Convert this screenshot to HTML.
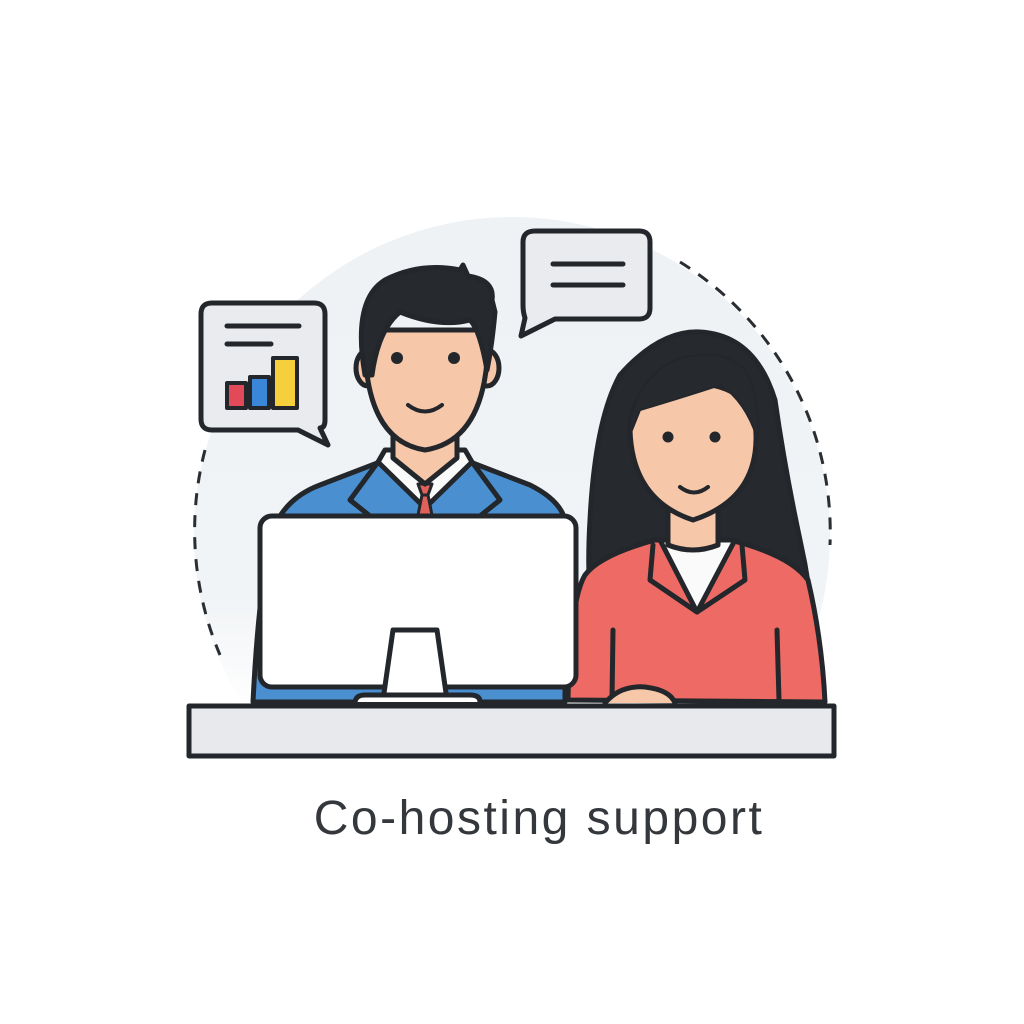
<!DOCTYPE html>
<html><head><style>
html,body{margin:0;padding:0;background:#fff;}
svg{display:block;}
</style></head><body>
<svg width="1024" height="1024" viewBox="0 0 1024 1024" xmlns="http://www.w3.org/2000/svg">
<defs>
<linearGradient id="cg" x1="0" y1="0" x2="0" y2="1" gradientUnits="objectBoundingBox">
<stop offset="0" stop-color="#eef2f5"/>
<stop offset="0.6" stop-color="#f1f4f6"/>
<stop offset="0.78" stop-color="#ffffff"/>
</linearGradient>
</defs>
<rect width="1024" height="1024" fill="#ffffff"/>
<circle cx="512" cy="535" r="318" fill="url(#cg)"/>
<path d="M680 262 A318 318 0 0 1 830 545" fill="none" stroke="#2a2d31" stroke-width="3" stroke-dasharray="12 10"/>
<path d="M205 450 A318 318 0 0 0 220 655" fill="none" stroke="#2a2d31" stroke-width="3" stroke-dasharray="12 10"/>

<g stroke="#23272b" stroke-width="5" stroke-linejoin="round" stroke-linecap="round">
<path d="M212 303 H314 Q325 303 325 314 V420 Q325 428 320 428 L328 445 L298 430 H212 Q201 430 201 419 V314 Q201 303 212 303 Z" fill="#e9ebee"/>
<line x1="227" y1="326" x2="299" y2="326"/>
<line x1="227" y1="344" x2="271" y2="344"/>
<rect x="227" y="383" width="19" height="25" fill="#e24a5a" stroke-width="4"/>
<rect x="250" y="377" width="19" height="31" fill="#3a86d8" stroke-width="4"/>
<rect x="273" y="358" width="24" height="50" fill="#f5cf3c" stroke-width="4"/>

<path d="M535 231 H639 Q650 231 650 242 V308 Q650 319 639 319 H555 L521 336 L525 318 Q523 312 523 305 V242 Q523 231 535 231 Z" fill="#e9ebee"/>
<line x1="553" y1="264" x2="623" y2="264"/>
<line x1="553" y1="285" x2="623" y2="285"/>

<path d="M600 700 Q585 600 590 520 Q595 420 620 375 Q660 330 700 332 Q755 335 775 400 Q785 470 800 540 Q818 620 815 700 Z" fill="#262a2f"/>
<path d="M568 700 Q570 600 585 575 Q600 555 655 540 L730 540 Q790 555 808 580 Q822 640 825 702 Z" fill="#ee6a64"/>
<path d="M660 540 L697 612 L735 540 Z" fill="#fafafa"/>
<path d="M653 545 L650 580 L697 612 L745 580 L742 545" fill="none"/>
<line x1="613" y1="630" x2="612" y2="700"/>
<line x1="777" y1="630" x2="779" y2="700"/>
<path d="M668 505 V545 Q693 555 718 545 V505 Z" fill="#f6c7a8"/>
<path d="M630 430 Q628 380 692 383 Q758 385 756 440 Q755 500 693 520 Q632 500 630 430 Z" fill="#f6c7a8"/>
<path d="M628 440 Q632 380 675 360 Q720 345 745 370 Q760 395 758 440 Q745 400 720 385 Q690 395 640 410 Z" fill="#262a2f" stroke-width="2"/>
<path d="M680 487 Q694 498 708 487" fill="none" stroke-width="4"/>
<path d="M605 703 Q620 685 645 687 Q670 690 675 703" fill="#f6c7a8"/>

<path d="M253 702 Q258 600 270 540 Q280 500 320 485 L385 460 L465 460 L530 485 Q560 500 565 520 L565 702 Z" fill="#4a8fd0"/>
<path d="M378 462 L425 508 L472 462 L465 450 L385 450 Z" fill="#fafafa"/>
<path d="M378 462 L350 500 L375 520 M472 462 L500 500 L475 520" fill="none"/>
<path d="M418 484 L432 484 L428 495 L422 495 Z" fill="#e0605a" stroke-width="3"/>
<path d="M422 495 L418 515 L432 515 L428 495 Z" fill="#e0605a" stroke-width="3"/>
<path d="M393 425 V458 L425 484 L457 458 V425 Z" fill="#f6c7a8"/>
<ellipse cx="368" cy="368" rx="12" ry="18" fill="#f6c7a8"/>
<ellipse cx="487" cy="368" rx="12" ry="18" fill="#f6c7a8"/>
<path d="M365 330 Q362 440 425 450 Q490 440 488 330 Z" fill="#f6c7a8"/>
<path d="M365 375 Q352 300 385 280 Q420 262 460 270 L463 265 L468 276 Q495 280 492 300 L495 312 Q492 345 487 370 Q480 330 470 320 Q440 328 400 312 Q378 330 372 375 Z" fill="#262a2f"/>
<path d="M408 405 Q425 418 442 405" fill="none" stroke-width="4"/>

<rect x="260" y="516" width="316" height="171" rx="12" fill="#ffffff"/>
<path d="M393 630 H437 L447 700 H383 Z" fill="#ffffff"/>
<path d="M355 702 Q356 695 365 695 H470 Q480 695 480 702" fill="#ffffff"/>

<rect x="189" y="706" width="645" height="50" fill="#e7e9ec"/>
</g>
<circle cx="397" cy="358" r="6" fill="#23272b"/>
<circle cx="454" cy="358" r="6" fill="#23272b"/>
<circle cx="668" cy="437" r="5.5" fill="#23272b"/>
<circle cx="715" cy="437" r="5.5" fill="#23272b"/>

<text x="539" y="834" text-anchor="middle" font-family="Liberation Sans, sans-serif" font-size="48" letter-spacing="2.5" fill="#34373b">Co-hosting support</text>
</svg>
</body></html>
